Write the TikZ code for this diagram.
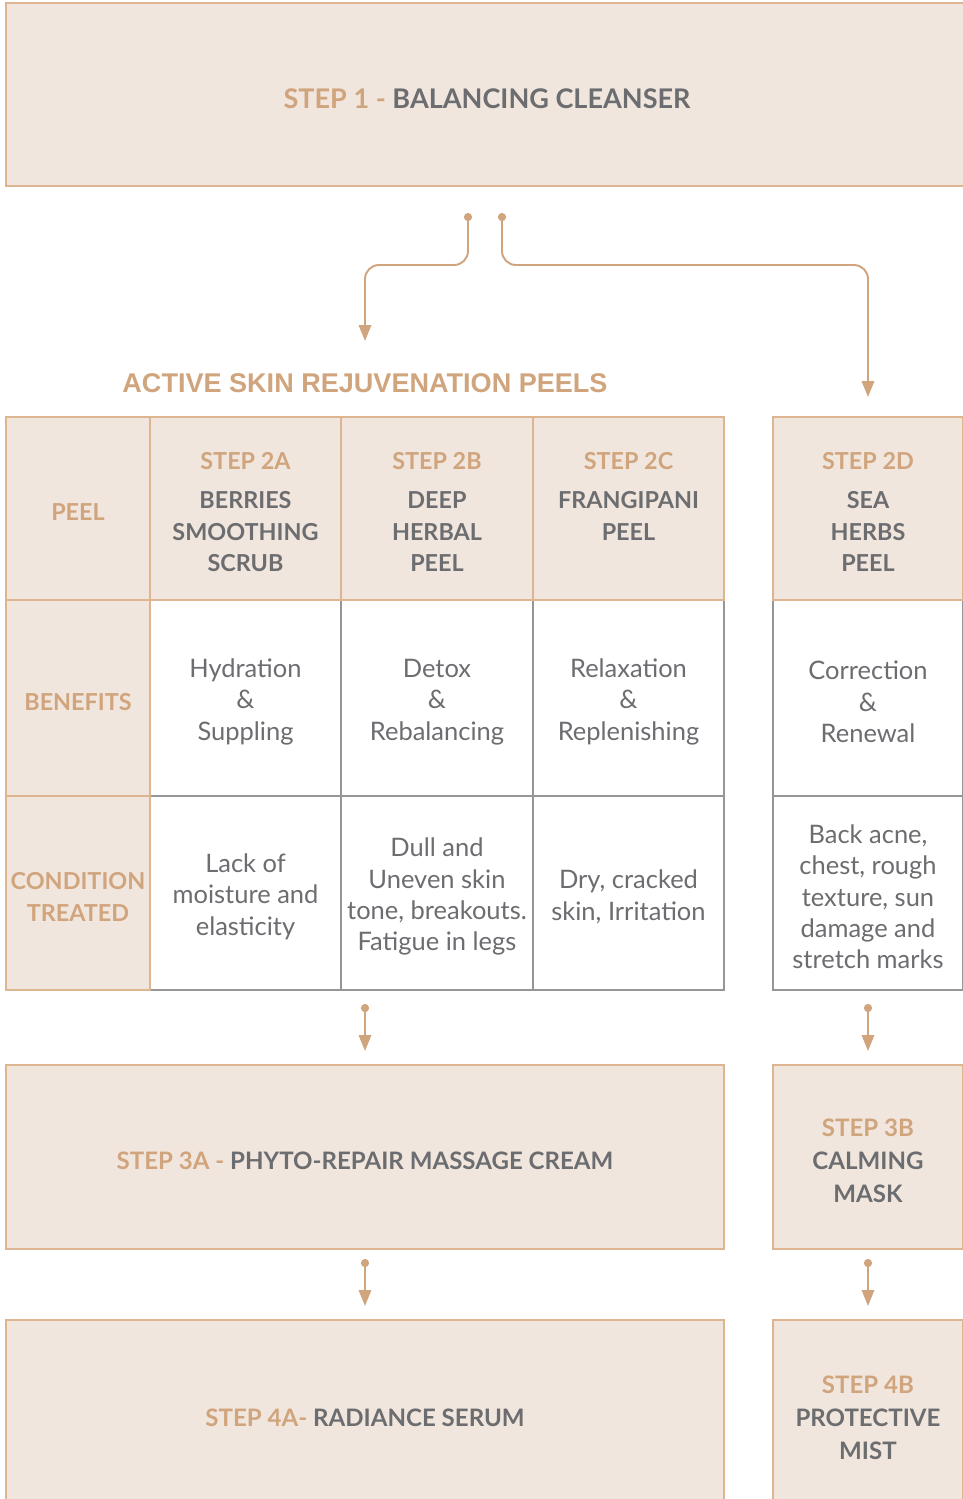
\documentclass[tikz,border=0pt]{standalone}
\usepackage{fontspec}
\setmainfont{Lato}
\newfontfamily\titlefont{Liberation Sans}
\usetikzlibrary{arrows.meta,positioning,calc}
\definecolor{tanink}{RGB}{208,164,124}
\definecolor{tanline}{RGB}{222,181,145}
\definecolor{beige}{RGB}{241,230,221}
\definecolor{greyink}{RGB}{108,109,112}
\definecolor{greyline}{RGB}{150,150,150}
\newcommand{\px}{0.02cm}
\newcommand{\up}{\rule{0pt}{\dimexpr.74em+4.2pt\relax}}
\newcommand{\tn}[1]{{\color{tanink}\up#1}}
\tikzset{
  cell/.style    ={rectangle, anchor=north west, inner sep=2pt, outer sep=0pt,
                   align=center, line width=0.8pt},
  head/.style    ={cell, draw=tanline, fill=beige, text=greyink,
                   font=\fontsize{13.3}{18}\selectfont\bfseries},
  side/.style    ={head, text=tanink},
  body/.style    ={cell, draw=greyline, fill=white, text=greyink,
                   font=\fontsize{14.5}{17.8}\selectfont},
  stepbox/.style ={head, font=\fontsize{13.7}{18.8}\selectfont\bfseries},
  flow/.style    ={draw=tanink, line width=1.1pt,
                   {Circle[length=4.6pt]}-{Triangle[length=9pt,width=7pt]}},
}
\begin{document}
\begin{tikzpicture}[x=\px, y=-\px]
    \useasboundingbox (0,0) rectangle (963,1499);
    \clip (0,0) rectangle (963,1499);

    % first step
    \node[stepbox, minimum width=962*\px, minimum height=183*\px,
          font=\fontsize{15.4}{18}\selectfont\bfseries] (cleanser) at (6,3)
          {\tn{STEP 1 - }BALANCING CLEANSER};
    \node[font=\titlefont\fontsize{15.4}{18}\selectfont\bfseries, text=tanink]
          (peels) at (365,383) {ACTIVE SKIN REJUVENATION PEELS};
    \coordinate (peelsIn) at (365,341);

    % table body
    \node[body, minimum width=191*\px, minimum height=196*\px] (ben2A) at (150,600) {\up Hydration\\\&\\Suppling};
    \node[body, minimum width=192*\px, minimum height=196*\px] (ben2B) at (341,600) {\up Detox\\\&\\Rebalancing};
    \node[body, minimum width=191*\px, minimum height=196*\px] (ben2C) at (533,600) {\up Relaxation\\\&\\Replenishing};
    \node[body, minimum width=190*\px, minimum height=196*\px] (ben2D) at (773,600) {\up Correction\\\&\\Renewal};
    \node[body, minimum width=191*\px, minimum height=194*\px] (cond2A) at (150,796) {\up Lack of\\moisture and\\elasticity};
    \node[body, minimum width=192*\px, minimum height=194*\px] (cond2B) at (341,796) {\up Dull and\\Uneven skin\\tone, breakouts.\\Fatigue in legs};
    \node[body, minimum width=191*\px, minimum height=194*\px] (cond2C) at (533,796) {\up Dry, cracked\\skin, Irritation};
    \node[body, minimum width=190*\px, minimum height=194*\px] (cond2D) at (773,796) {\up Back acne,\\chest, rough\\texture, sun\\damage and\\stretch marks};

    % table heads
    \node[side, minimum width=144*\px, minimum height=183*\px] (peelLbl) at (6,417) {\up PEEL};
    \node[side, minimum width=144*\px, minimum height=196*\px] (benLbl) at (6,600) {\up BENEFITS};
    \node[side, minimum width=144*\px, minimum height=194*\px] (condLbl) at (6,796) {\up CONDITION\\TREATED};
    \node[head, minimum width=191*\px, minimum height=183*\px] (head2A) at (150,417) {\tn{STEP 2A}\\[4pt]BERRIES\\SMOOTHING\\SCRUB};
    \node[head, minimum width=192*\px, minimum height=183*\px] (head2B) at (341,417) {\tn{STEP 2B}\\[4pt]DEEP\\HERBAL\\PEEL};
    \node[head, minimum width=191*\px, minimum height=183*\px] (head2C) at (533,417) {\tn{STEP 2C}\\[4pt]FRANGIPANI\\PEEL\\\mbox{}};
    \node[head, minimum width=190*\px, minimum height=183*\px] (headD) at (773,417) {\tn{STEP 2D}\\[4pt]SEA\\HERBS\\PEEL};

    % later steps
    \node[stepbox, minimum width=718*\px, minimum height=184*\px] (step3A) at (6,1065) {\tn{STEP 3A - }PHYTO-REPAIR MASSAGE CREAM};
    \node[stepbox, minimum width=190*\px, minimum height=184*\px] (step3B) at (773,1065) {\tn{STEP 3B}\\CALMING\\MASK};
    \node[stepbox, minimum width=718*\px, minimum height=188*\px] (step4A) at (6,1320) {\tn{STEP 4A- }RADIANCE SERUM};
    \node[stepbox, minimum width=190*\px, minimum height=188*\px] (step4B) at (773,1320) {\tn{STEP 4B}\\PROTECTIVE\\MIST};

    % flows
    \draw[flow, rounded corners=14*\px] ($(cleanser.south)+(-19,27)$) -- ++(0,52) -| (peelsIn);
    \draw[flow, rounded corners=14*\px] ($(cleanser.south)+(15,27)$) -- ++(0,52) -| ($(headD.north)+(0,-20)$);
    \draw[flow] ($(step3A.north)+(0,-61)$) -- ($(step3A.north)+(0,-14)$);
    \draw[flow] ($(step3B.north)+(0,-61)$) -- ($(step3B.north)+(0,-14)$);
    \draw[flow] ($(step4A.north)+(0,-61)$) -- ($(step4A.north)+(0,-14)$);
    \draw[flow] ($(step4B.north)+(0,-61)$) -- ($(step4B.north)+(0,-14)$);
  \end{tikzpicture}
\end{document}
